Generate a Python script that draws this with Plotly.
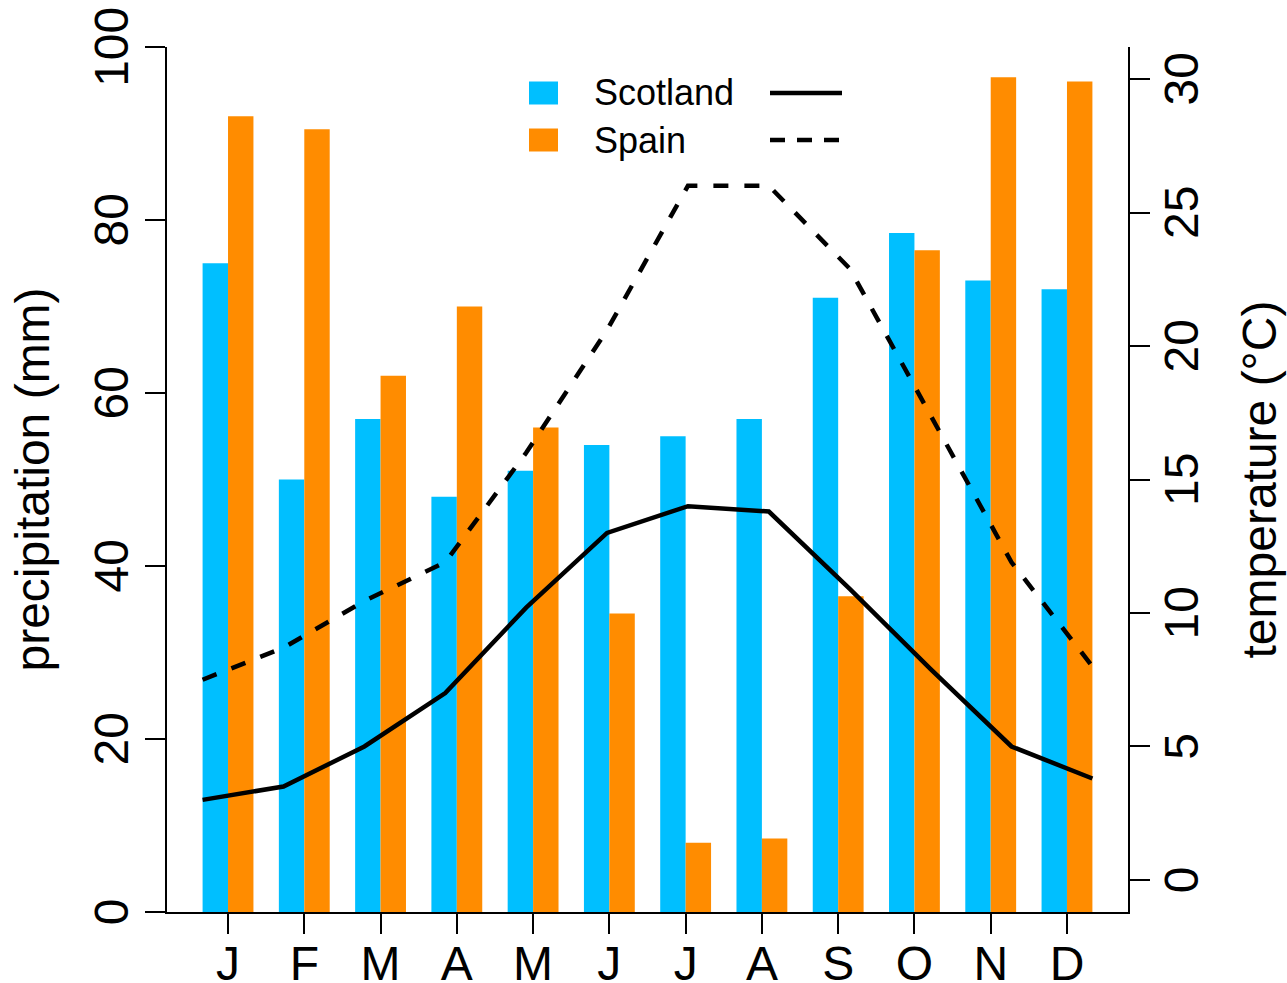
import plotly.graph_objects as go

# ---------------- data ----------------
months = ["J", "F", "M", "A", "M", "J", "J", "A", "S", "O", "N", "D"]
scotland_precip = [75, 50, 57, 48, 51, 54, 55, 57, 71, 78.5, 73, 72]
spain_precip = [92, 90.5, 62, 70, 56, 34.5, 8, 8.5, 36.5, 76.5, 96.5, 96]
scotland_temp = [3.0, 3.5, 5.0, 7.0, 10.2, 13.0, 14.0, 13.8, 10.9, 7.9, 5.0, 3.8]
spain_temp = [7.5, 8.7, 10.45, 11.9, 16.0, 20.6, 26.0, 26.0, 22.9, 17.4, 11.9, 8.0]
precip_ticks = [0, 20, 40, 60, 80, 100]
temp_ticks = [0, 5, 10, 15, 20, 25, 30]
series_names = ["Scotland", "Spain"]
axis_titles = ["precipitation (mm)", "temperature (°C)"]

# ---------------- geometry (pixels of the 1287x983 window) ----------------
W, H = 1287, 983
PLOT_L, PLOT_R, PLOT_T, PLOT_B = 167, 1128, 47, 912   # plot region
ML, MT = PLOT_L, PLOT_T
MR, MB = W - PLOT_R, H - PLOT_B

BLUE = "#00BFFF"    # deepskyblue
ORANGE = "#FF8C00"  # darkorange
FONT = "Liberation Sans, Arial, Helvetica, sans-serif"
TICK_FS = 48
LEG_FS = 36

n = len(months)
# barplot(beside=TRUE) layout: each group = 2 bars of width 1 + 1 space
scot_x = [3 * i + 1.5 for i in range(n)]
spain_x = [3 * i + 2.5 for i in range(n)]
label_x = [3 * i + 2 for i in range(n)]
bar_lo, bar_hi = 1, 3 * n
bpad = 0.04 * (bar_hi - bar_lo)
bar_range = [bar_lo - bpad, bar_hi + bpad]

month_idx = list(range(1, n + 1))
lpad = 0.04 * (n - 1)
line_range = [1 - lpad, n + lpad]

fig = go.Figure()
fig.add_trace(go.Bar(x=scot_x, y=scotland_precip, width=1, name=series_names[0],
                     marker=dict(color=BLUE, line=dict(width=0)), showlegend=False))
fig.add_trace(go.Bar(x=spain_x, y=spain_precip, width=1, name=series_names[1],
                     marker=dict(color=ORANGE, line=dict(width=0)), showlegend=False))
fig.add_trace(go.Scatter(x=month_idx, y=scotland_temp, xaxis="x2", yaxis="y2", mode="lines",
                         line=dict(color="black", width=4.5), showlegend=False))
fig.add_trace(go.Scatter(x=month_idx, y=spain_temp, xaxis="x2", yaxis="y2", mode="lines",
                         line=dict(color="black", width=4.5, dash="15px,16px"), showlegend=False))

axis_common = dict(showline=True, linewidth=2, linecolor="black", ticks="outside",
                   ticklen=20, tickwidth=2, tickcolor="black", showgrid=False,
                   zeroline=False, automargin=False, ticklabeloverflow="allow",
                   tickfont=dict(size=TICK_FS, color="black", family=FONT))

fig.update_layout(
    template="none",
    width=W, height=H,
    margin=dict(l=ML, r=MR, t=MT, b=MB, pad=0, autoexpand=False),
    paper_bgcolor="white", plot_bgcolor="white",
    font=dict(family=FONT, color="black", size=TICK_FS),
    barmode="overlay",
    showlegend=False,
    xaxis=dict(range=bar_range, tickmode="array", tickvals=label_x, ticktext=months,
               ticklabelstandoff=-12, **axis_common),
    xaxis2=dict(range=line_range, overlaying="x", visible=False, anchor="y2"),
    yaxis=dict(range=[precip_ticks[0], precip_ticks[-1]], tickmode="array",
               tickvals=precip_ticks, tickangle=-90, ticklabelstandoff=-2,
               ticklabelshift=7, **axis_common),
    yaxis2=dict(range=[-1.2, 31.2], tickmode="array", tickvals=temp_ticks, tickangle=-90,
                overlaying="y", side="right", ticklabelstandoff=-10,
                ticklabelshift=7, **axis_common),
)


def px(xs):
    return (xs - PLOT_L) / (PLOT_R - PLOT_L)


def py(ys):
    return (PLOT_B - ys) / (PLOT_B - PLOT_T)


# axis titles (R mtext style, rotated, centred on the plot region)
yc_mid = (PLOT_T + PLOT_B) / 2
fig.add_annotation(xref="paper", yref="paper", x=px(32), y=py(yc_mid), text=axis_titles[0],
                   textangle=-90, showarrow=False, xanchor="center", yanchor="middle",
                   font=dict(size=TICK_FS, color="black", family=FONT))
fig.add_annotation(xref="paper", yref="paper", x=px(1259), y=py(yc_mid), text=axis_titles[1],
                   textangle=-90, showarrow=False, xanchor="center", yanchor="middle",
                   font=dict(size=TICK_FS, color="black", family=FONT))

# ---------------- legend (drawn like R's legend) ----------------
rows = [(93, BLUE, "solid"), (140, ORANGE, "15px,12px")]
for (yc, col, dash), name in zip(rows, series_names):
    fig.add_shape(type="rect", xref="paper", yref="paper",
                  x0=px(529), x1=px(558), y0=py(yc + 11.5), y1=py(yc - 11.5),
                  fillcolor=col, line=dict(width=0))
    fig.add_annotation(xref="paper", yref="paper", x=px(592), y=py(yc), text=name,
                       showarrow=False, xanchor="left", yanchor="middle",
                       font=dict(size=LEG_FS, color="black", family=FONT))
    fig.add_shape(type="line", xref="paper", yref="paper",
                  x0=px(770), x1=px(842), y0=py(yc), y1=py(yc),
                  line=dict(color="black", width=4.5, dash=dash))

# remove the default page margin so the figure fills the window exactly
fig.write_html("out.html", config={"displayModeBar": False},
               post_script="document.body.style.margin='0px';")
